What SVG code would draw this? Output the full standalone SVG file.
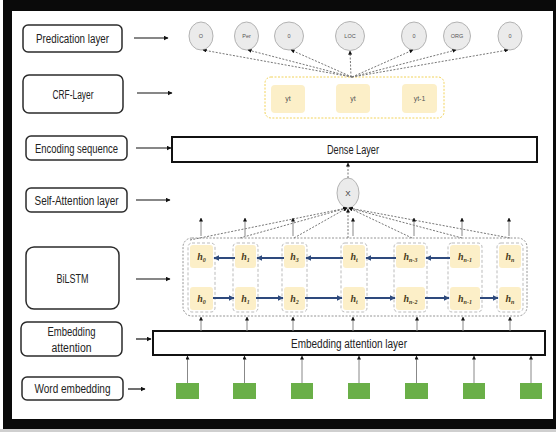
<svg xmlns="http://www.w3.org/2000/svg" width="556" height="432" viewBox="0 0 556 432">
<defs>
<marker id="ah" viewBox="0 0 10 10" refX="9" refY="5" markerWidth="5" markerHeight="5" markerUnits="userSpaceOnUse" orient="auto"><path d="M0,0 L10,5 L0,10 z" fill="#111"/></marker>
<marker id="ahs" viewBox="0 0 10 10" refX="9" refY="5" markerWidth="4" markerHeight="4" markerUnits="userSpaceOnUse" orient="auto"><path d="M0,0 L10,5 L0,10 z" fill="#111"/></marker>
<marker id="bh" viewBox="0 0 10 10" refX="9" refY="5" markerWidth="6" markerHeight="6" markerUnits="userSpaceOnUse" orient="auto"><path d="M0,0 L10,5 L0,10 z" fill="#2e4a7d"/></marker>
</defs>
<style>
.lbl{fill:#fff;stroke:#2b2b2b;stroke-width:1.5}
.lt{font-family:"Liberation Sans",Arial,sans-serif;font-size:12px;fill:#222;text-anchor:middle}
.bar{fill:#fff;stroke:#111;stroke-width:2}
.arr{stroke:#111;stroke-width:1.2;fill:none;marker-end:url(#ah)}
.up{stroke:#888;stroke-width:1;fill:none;marker-end:url(#ahs)}
.dot{stroke:#777;stroke-width:1;stroke-dasharray:2 1.5;fill:none;marker-end:url(#ahs)}
.circ{fill:#ebebeb;stroke:#b3b3b3;stroke-width:1}
.ct{font-family:"Liberation Sans",Arial,sans-serif;font-size:5.5px;fill:#555;text-anchor:middle}
.cell{fill:#fcefc8;stroke:none}
.colb{fill:none;stroke:#aaa;stroke-width:0.8;stroke-dasharray:3 2}
.ht{font-family:"Liberation Serif","Times New Roman",serif;font-style:italic;font-weight:bold;font-size:10px;fill:#4a3c20;text-anchor:middle}
.sub{font-size:6px}
.ba{stroke:#2e4a7d;stroke-width:2;fill:none;marker-end:url(#bh)}
.green{fill:#6aaf48}
</style>
<!-- frame -->
<rect x="0" y="429" width="556" height="3" fill="#cfcfcf"/>
<rect x="3" y="0" width="553" height="429" fill="#0a0a0a"/>
<rect x="12" y="11" width="541" height="408" fill="#fff"/>

<!-- left labels -->
<g id="lbl-pred"><rect class="lbl" x="23" y="25" width="99" height="27" rx="5"/><text class="lt" x="72.5" y="42.5" textLength="73" lengthAdjust="spacingAndGlyphs">Predication layer</text></g>
<g id="lbl-crf"><rect class="lbl" x="23" y="75" width="100" height="38" rx="6"/><text class="lt" x="73" y="98.5" textLength="41" lengthAdjust="spacingAndGlyphs">CRF-Layer</text></g>
<g id="lbl-enc"><rect class="lbl" x="26" y="136" width="101" height="24" rx="5"/><text class="lt" x="76.5" y="152.5" textLength="83" lengthAdjust="spacingAndGlyphs">Encoding sequence</text></g>
<g id="lbl-self"><rect class="lbl" x="26" y="188" width="101" height="24" rx="5"/><text class="lt" x="76.5" y="204.5" textLength="84" lengthAdjust="spacingAndGlyphs">Self-Attention layer</text></g>
<g id="lbl-bilstm"><rect class="lbl" x="26" y="247" width="93" height="62" rx="8"/><text class="lt" x="72.5" y="283" textLength="32" lengthAdjust="spacingAndGlyphs">BiLSTM</text></g>
<g id="lbl-emba"><rect class="lbl" x="21" y="322" width="101" height="34" rx="6"/><text class="lt" x="71.5" y="336" textLength="48" lengthAdjust="spacingAndGlyphs">Embedding</text><text class="lt" x="71.5" y="352" textLength="40" lengthAdjust="spacingAndGlyphs">attention</text></g>
<g id="lbl-word"><rect class="lbl" x="22" y="377" width="101" height="23" rx="5"/><text class="lt" x="72.5" y="393" textLength="76" lengthAdjust="spacingAndGlyphs">Word embedding</text></g>

<!-- prediction circles -->
<g id="pred-1"><ellipse class="circ" cx="201" cy="36" rx="12" ry="14"/><text class="ct" x="201" y="38">O</text></g>
<g id="pred-2"><ellipse class="circ" cx="246.5" cy="36" rx="12" ry="14"/><text class="ct" x="246.5" y="38">Per</text></g>
<g id="pred-3"><ellipse class="circ" cx="289" cy="36" rx="14.5" ry="14"/><text class="ct" x="289" y="38">0</text></g>
<g id="pred-4"><ellipse class="circ" cx="350" cy="36" rx="14.5" ry="14.5"/><text class="ct" x="350" y="38">LOC</text></g>
<g id="pred-5"><ellipse class="circ" cx="414" cy="36" rx="12.5" ry="14"/><text class="ct" x="414" y="38">0</text></g>
<g id="pred-6"><ellipse class="circ" cx="457" cy="36" rx="13.5" ry="14"/><text class="ct" x="457" y="38">ORG</text></g>
<g id="pred-7"><ellipse class="circ" cx="510" cy="36" rx="12" ry="14"/><text class="ct" x="510" y="38">0</text></g>

<!-- CRF layer -->
<g id="crf">
<rect x="265" y="77" width="179" height="41" rx="6" fill="none" stroke="#f2d35a" stroke-width="1" stroke-dasharray="2 1.5"/>
<rect class="cell" x="271" y="85" width="34" height="28" rx="4"/>
<rect class="cell" x="336" y="84" width="34" height="29" rx="4"/>
<rect class="cell" x="402" y="84" width="35" height="29" rx="4"/>
<text class="ct" style="font-size:7px" x="288" y="101">yt</text>
<text class="ct" style="font-size:7px" x="353" y="101">yt</text>
<text class="ct" style="font-size:7px" x="419.5" y="101">yt-1</text>
</g>

<!-- Dense layer -->
<g id="dense"><rect class="bar" x="172" y="137" width="365" height="25"/><text class="lt" x="353" y="154" textLength="52" lengthAdjust="spacingAndGlyphs">Dense Layer</text></g>

<!-- X attention node -->
<g id="attn-x"><ellipse class="circ" cx="348" cy="193" rx="11" ry="15"/><text class="ct" style="font-size:8px;fill:#333" x="348" y="196">X</text></g>

<!-- BiLSTM -->
<g id="bilstm">
<rect x="183" y="238" width="344" height="78" rx="9" fill="none" stroke="#888" stroke-width="0.9" stroke-dasharray="2 1.5"/>
<rect class="colb" x="188" y="243" width="27" height="69" rx="4"/>
<rect class="colb" x="233" y="243" width="25" height="69" rx="4"/>
<rect class="colb" x="282" y="243" width="25" height="69" rx="4"/>
<rect class="colb" x="341" y="243" width="26" height="69" rx="4"/>
<rect class="colb" x="394" y="243" width="33" height="69" rx="4"/>
<rect class="colb" x="448" y="243" width="34" height="69" rx="4"/>
<rect class="colb" x="497" y="243" width="26" height="69" rx="4"/>
<rect class="cell" x="190" y="245" width="23" height="23" rx="3"/>
<rect class="cell" x="235" y="245" width="21" height="23" rx="3"/>
<rect class="cell" x="284" y="245" width="21" height="23" rx="3"/>
<rect class="cell" x="343" y="245" width="22" height="23" rx="3"/>
<rect class="cell" x="396" y="245" width="29" height="23" rx="3"/>
<rect class="cell" x="450" y="245" width="30" height="23" rx="3"/>
<rect class="cell" x="499" y="245" width="22" height="23" rx="3"/>
<rect class="cell" x="190" y="287" width="23" height="23" rx="3"/>
<rect class="cell" x="235" y="287" width="21" height="23" rx="3"/>
<rect class="cell" x="284" y="287" width="21" height="23" rx="3"/>
<rect class="cell" x="343" y="287" width="22" height="23" rx="3"/>
<rect class="cell" x="396" y="287" width="29" height="23" rx="3"/>
<rect class="cell" x="450" y="287" width="30" height="23" rx="3"/>
<rect class="cell" x="499" y="287" width="22" height="23" rx="3"/>
<text class="ht" x="201.5" y="260">h<tspan class="sub" dy="1.5">0</tspan></text>
<text class="ht" x="245.5" y="260">h<tspan class="sub" dy="1.5">1</tspan></text>
<text class="ht" x="294.5" y="260">h<tspan class="sub" dy="1.5">3</tspan></text>
<text class="ht" x="354" y="260">h<tspan class="sub" dy="1.5">t</tspan></text>
<text class="ht" x="410.5" y="260">h<tspan class="sub" dy="1.5">n-3</tspan></text>
<text class="ht" x="465" y="260">h<tspan class="sub" dy="1.5">n-1</tspan></text>
<text class="ht" x="510" y="260">h<tspan class="sub" dy="1.5">n</tspan></text>
<text class="ht" x="201.5" y="302">h<tspan class="sub" dy="1.5">0</tspan></text>
<text class="ht" x="245.5" y="302">h<tspan class="sub" dy="1.5">1</tspan></text>
<text class="ht" x="294.5" y="302">h<tspan class="sub" dy="1.5">2</tspan></text>
<text class="ht" x="354" y="302">h<tspan class="sub" dy="1.5">t</tspan></text>
<text class="ht" x="410.5" y="302">h<tspan class="sub" dy="1.5">n-2</tspan></text>
<text class="ht" x="465" y="302">h<tspan class="sub" dy="1.5">n-1</tspan></text>
<text class="ht" x="510" y="302">h<tspan class="sub" dy="1.5">n</tspan></text>
</g>

<!-- Embedding attention layer -->
<g id="emb-attn"><rect class="bar" x="153" y="331" width="392" height="24"/><text class="lt" x="349" y="348" textLength="116" lengthAdjust="spacingAndGlyphs">Embedding attention layer</text></g>

<!-- word embeddings -->
<g id="word-emb">
<rect class="green" x="176" y="383" width="23" height="16"/>
<rect class="green" x="233" y="383" width="23" height="16"/>
<rect class="green" x="291" y="383" width="22" height="16"/>
<rect class="green" x="348" y="383" width="22" height="16"/>
<rect class="green" x="405" y="383" width="23" height="16"/>
<rect class="green" x="463" y="383" width="22" height="16"/>
<rect class="green" x="520" y="383" width="22" height="16"/>
</g>

<g id="connectors">
<!-- label arrows -->
<line class="arr" x1="134" y1="38" x2="168" y2="38"/>
<line class="arr" x1="137" y1="93" x2="172" y2="93"/>
<line class="arr" x1="136" y1="148" x2="171" y2="148"/>
<line class="arr" x1="136" y1="200" x2="170" y2="200"/>
<line class="arr" x1="136" y1="279" x2="170" y2="279"/>
<line class="arr" x1="136" y1="339" x2="151" y2="339"/>
<line class="arr" x1="128" y1="389" x2="145" y2="389"/>
<!-- CRF to predictions -->
<line class="dot" x1="352" y1="77" x2="203" y2="50"/>
<line class="dot" x1="352" y1="77" x2="248" y2="50"/>
<line class="dot" x1="352" y1="77" x2="291" y2="50"/>
<line class="dot" x1="351" y1="77" x2="350" y2="51"/>
<line class="dot" x1="352" y1="77" x2="413" y2="50"/>
<line class="dot" x1="352" y1="77" x2="456" y2="50"/>
<line class="dot" x1="352" y1="77" x2="508" y2="50"/>
<!-- X to dense -->
<line class="dot" x1="348" y1="178" x2="348" y2="163"/>
<!-- BiLSTM to X -->
<line class="dot" x1="190" y1="240" x2="347" y2="208"/>
<line class="dot" x1="240" y1="238" x2="347" y2="208"/>
<line class="dot" x1="294" y1="238" x2="347" y2="208"/>
<line class="dot" x1="348" y1="238" x2="348" y2="209"/>
<line class="dot" x1="412" y1="238" x2="349" y2="208"/>
<line class="dot" x1="462" y1="238" x2="349" y2="208"/>
<line class="dot" x1="510" y1="238" x2="349" y2="208"/>
<!-- BiLSTM up arrows -->
<line class="up" x1="201" y1="236" x2="201" y2="218"/>
<line class="up" x1="245" y1="236" x2="245" y2="218"/>
<line class="up" x1="293" y1="236" x2="293" y2="218"/>
<line class="up" x1="353" y1="236" x2="353" y2="218"/>
<line class="up" x1="414" y1="236" x2="414" y2="218"/>
<line class="up" x1="462" y1="236" x2="462" y2="218"/>
<line class="up" x1="509" y1="236" x2="509" y2="218"/>
<!-- backward (top) -->
<line class="ba" x1="235" y1="258" x2="214" y2="258"/>
<line class="ba" x1="284" y1="258" x2="257" y2="258"/>
<line class="ba" x1="343" y1="258" x2="306" y2="258"/>
<line class="ba" x1="396" y1="258" x2="366" y2="258"/>
<line class="ba" x1="450" y1="258" x2="426" y2="258"/>
<!-- forward (bottom) -->
<line class="ba" x1="213" y1="298" x2="234" y2="298"/>
<line class="ba" x1="256" y1="298" x2="283" y2="298"/>
<line class="ba" x1="305" y1="298" x2="342" y2="298"/>
<line class="ba" x1="365" y1="298" x2="395" y2="298"/>
<line class="ba" x1="425" y1="298" x2="449" y2="298"/>
<line class="ba" x1="480" y1="298" x2="498" y2="298"/>
<!-- emb layer to BiLSTM -->
<line class="up" x1="201" y1="331" x2="201" y2="317"/>
<line class="up" x1="247" y1="331" x2="247" y2="317"/>
<line class="up" x1="293" y1="331" x2="293" y2="317"/>
<line class="up" x1="353" y1="331" x2="353" y2="317"/>
<line class="up" x1="417" y1="331" x2="417" y2="317"/>
<line class="up" x1="463" y1="331" x2="463" y2="317"/>
<line class="up" x1="510" y1="331" x2="510" y2="317"/>
<!-- word emb to emb layer -->
<line class="up" x1="187.5" y1="383" x2="187.5" y2="356"/>
<line class="up" x1="244.5" y1="383" x2="244.5" y2="356"/>
<line class="up" x1="302" y1="383" x2="302" y2="356"/>
<line class="up" x1="359" y1="383" x2="359" y2="356"/>
<line class="up" x1="416.5" y1="383" x2="416.5" y2="356"/>
<line class="up" x1="474" y1="383" x2="474" y2="356"/>
<line class="up" x1="531" y1="383" x2="531" y2="356"/>
</g>
</svg>
